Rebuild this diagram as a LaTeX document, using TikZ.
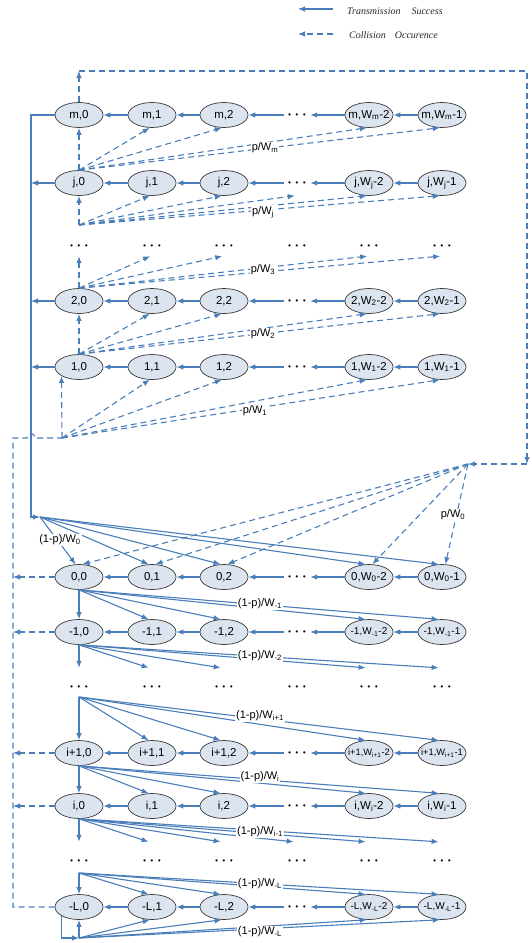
\documentclass[tikz,border=0pt]{standalone}
\usepackage{fontspec}
\setmainfont{Liberation Sans}
\newfontfamily\legfont{Liberation Serif}
\usetikzlibrary{shapes.geometric,arrows.meta}
\definecolor{arrblue}{HTML}{4A7EBB}
\definecolor{nodefill}{HTML}{DCE4F0}
\definecolor{nodeborder}{HTML}{3A3A3A}
\newcommand\dotsg{{\fontsize{15}{15}\selectfont\boldmath$\cdots$}}
\newcommand\sbs[1]{\textsubscript{#1}}
\newcommand\smallnode{\fontsize{10}{12}\selectfont}
\newcommand\tinynode{\fontsize{9.3}{11}\selectfont}
\newcommand\strow[8]{%
  \node[ell] (#1-0) at (79,#2) {\makebox[0pt]{#3}};
  \node[ell] (#1-1) at (152,#2) {\makebox[0pt]{#4}};
  \node[ell] (#1-2) at (224,#2) {\makebox[0pt]{#5}};
  \node[dts] (#1-3) at (297,#2) {\dotsg};
  \node[ell] (#1-4) at (369,#2) {\makebox[0pt]{#8#6}};
  \node[ell] (#1-5) at (442,#2) {\makebox[0pt]{#8#7}};
  \draw[sarr] (#1-5) -- (#1-4);
  \draw[sarr] (#1-4) -- (#1-3);
  \draw[sarr] (#1-3) -- (#1-2);
  \draw[sarr] (#1-2) -- (#1-1);
  \draw[sarr] (#1-1) -- (#1-0);
}
\newcommand\dotrow[3]{%
  \foreach \k/\x in {0/79,1/152,2/224,3/297,4/369,5/442}
    \node[dts,minimum height=#3] (#1-\k) at (\x,#2) {\dotsg};
}
\begin{document}
\begin{tikzpicture}[x=1pt,y=-1pt,
  ell/.style={ellipse, draw=nodeborder, fill=nodefill, minimum width=48pt,
    minimum height=25pt, inner sep=0pt, line width=0.7pt,
    font=\fontsize{11.5}{13}\selectfont},
  dts/.style={minimum width=26pt, minimum height=25pt, inner sep=0pt},
  sline/.style={draw=arrblue, line width=1.1pt},
  dline/.style={sline, dash pattern=on 6pt off 4pt},
  sarr/.style={sline, -{Latex[length=7pt,width=5.5pt]}},
  darr/.style={dline, -{Latex[length=7pt,width=5.5pt]}},
  lab/.style={fill=white, inner sep=1pt, font=\fontsize{11}{13}\selectfont},
  legtext/.style={font=\legfont\itshape\fontsize{10}{12}\selectfont, inner sep=0pt, text=black!85}]
\useasboundingbox (0,0) rectangle (531,943);

% legend
\node[legtext, anchor=west] (lg1) at (347,11) {Transmission\hspace{11pt}Success};
\node[legtext, anchor=west] (lg2) at (349,35) {Collision\hspace{9pt}Occurence};
\coordinate (la1) at (333,9);  \coordinate (lb1) at (298,9);
\coordinate (la2) at (333,34); \coordinate (lb2) at (298,34);
\draw[sarr] (la1) -- (lb1);
\draw[darr] (la2) -- (lb2);

% state rows
\strow{m}{115}{m,0}{m,1}{m,2}{m,W\sbs{m}-2}{m,W\sbs{m}-1}{}
\strow{j}{183}{j,0}{j,1}{j,2}{j,W\sbs{j}-2}{j,W\sbs{j}-1}{}
\dotrow{d1}{246}{20pt}
\strow{two}{301}{2,0}{2,1}{2,2}{2,W\sbs{2}-2}{2,W\sbs{2}-1}{}
\strow{one}{367}{1,0}{1,1}{1,2}{1,W\sbs{1}-2}{1,W\sbs{1}-1}{}
\strow{zero}{577}{0,0}{0,1}{0,2}{0,W\sbs{0}-2}{0,W\sbs{0}-1}{}
\strow{mone}{632}{-1,0}{-1,1}{-1,2}{-1,W\sbs{-1}-2}{-1,W\sbs{-1}-1}{\smallnode}
\dotrow{d2}{687}{38pt}
\strow{ipone}{753}{i+1,0}{i+1,1}{i+1,2}{i+1,W\sbs{i+1}-2}{i+1,W\sbs{i+1}-1}{\tinynode}
\strow{i}{806}{i,0}{i,1}{i,2}{i,W\sbs{i}-2}{i,W\sbs{i}-1}{}
\dotrow{d3}{861}{38pt}
\strow{mL}{907}{-L,0}{-L,1}{-L,2}{-L,W\sbs{-L}-2}{-L,W\sbs{-L}-1}{\smallnode}

% coordinates
\coordinate (T) at (79,71);
\coordinate (R1) at (527,71);
\coordinate (R2) at (527,464);
\coordinate (f0r) at (468,464);
\coordinate (fj) at (79,225);
\coordinate (f1) at (62,438);
\coordinate (Lv) at (31,115);
\coordinate (g0) at (40,517);
\coordinate (Ld) at (13,907);
\coordinate (g3) at (79,697);
\coordinate (g6) at (79,873);
\coordinate (g7) at (79,938);

% outer collision loop (top / right)
\draw[darr] (m-0) -- (T);
\draw[darr] (T) -- (R1) -- (R2);
\draw[darr] (R2) -- (f0r);

% left success loop
\draw[sarr] (m-0) -- (Lv) -- (Lv |- g0) -- (g0);
\foreach \r in {j,two,one} \draw[sarr] (\r-0) -- (\r-0 -| Lv);

% left collision loop
\foreach \r in {zero,mone,ipone,i} \draw[darr] (\r-0) -- (\r-0 -| Ld);
\draw[dline] (mL-0) -- (mL-0 -| Ld) -- (13,438) -- (27,438)
  .. controls (27,432) and (35,432) .. (35,438) -- (f1);

% upper fans (collision)
\draw[darr] (j-0) -- (m-0);
\foreach \k in {1,2,4,5} \draw[darr] (j-0.north) -- (m-\k.260);
\draw[darr] (fj) -- (j-0);
\foreach \k in {1,2,3,4,5} \draw[darr] (fj) -- (j-\k.260);
\draw[darr] (two-0) -- (d1-0);
\foreach \k in {1,2,4,5} \draw[darr] (two-0.north) -- (d1-\k.260);
\draw[darr] (one-0) -- (two-0);
\foreach \k in {1,2,4,5} \draw[darr] (one-0.north) -- (two-\k.260);
\draw[darr] (f1) -- (one-0.207);
\foreach \k in {1,2,4,5} \draw[darr] (f1) -- (one-\k.260);

% row 0 fans
\foreach \k in {0,1,2,4,5} \draw[sarr] (g0) -- (zero-\k.105);
\foreach \k in {0,1,2,4,5} \draw[darr] (f0r) -- (zero-\k.75);

% lower fans (success)
\draw[sarr] (zero-0) -- (mone-0);
\foreach \k in {1,2,4,5} \draw[sarr] (zero-0.south) -- (mone-\k.105);
\draw[sarr] (mone-0) -- (d2-0);
\foreach \k in {1,2,4,5} \draw[sarr] (mone-0.south) -- (d2-\k.100);
\draw[sarr] (g3) -- (ipone-0);
\foreach \k in {1,2,4,5} \draw[sarr] (g3) -- (ipone-\k.105);
\draw[sarr] (ipone-0) -- (i-0);
\foreach \k in {1,2,4,5} \draw[sarr] (ipone-0.south) -- (i-\k.105);
\draw[sarr] (i-0) -- (d3-0);
\foreach \k in {1,2,3,4,5} \draw[sarr] (i-0.south) -- (d3-\k.100);
\draw[sarr] (g6) -- (mL-0);
\foreach \k in {1,2,4,5} \draw[sarr] (g6) -- (mL-\k.105);
\draw[sarr] (mL-0.207) |- (g7);
\draw[sarr] (g7) -- (mL-0);
\foreach \k in {1,2,4,5} \draw[sarr] (g7) -- (mL-\k.260);

% labels
\node[lab] (lpm) at (265,148) {p/W\sbs{m}};
\node[lab] (lpj) at (263,212) {p/W\sbs{j}};
\node[lab] (lp3) at (263,270) {p/W\sbs{3}};
\node[lab] (lp2) at (263,334) {p/W\sbs{2}};
\node[lab] (lp1) at (255,411) {p/W\sbs{1}};
\node[lab] (lp0) at (453,515) {p/W\sbs{0}};
\node[lab] (lq0) at (60,540) {(1-p)/W\sbs{0}};
\node[lab] (lq1) at (260,604) {(1-p)/W\sbs{-1}};
\node[lab] (lq2) at (260,656) {(1-p)/W\sbs{-2}};
\node[lab] (lq3) at (260,716) {(1-p)/W\sbs{i+1}};
\node[lab] (lq4) at (260,777) {(1-p)/W\sbs{i}};
\node[lab] (lq5) at (260,832) {(1-p)/W\sbs{i-1}};
\node[lab] (lq6) at (260,884) {(1-p)/W\sbs{-L}};
\node[lab] (lq7) at (260,932) {(1-p)/W\sbs{-L}};
\end{tikzpicture}
\end{document}
